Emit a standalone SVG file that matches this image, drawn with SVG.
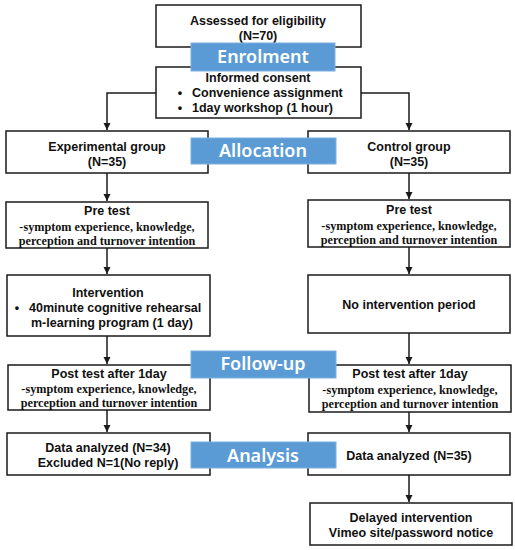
<svg xmlns="http://www.w3.org/2000/svg" width="515" height="550" viewBox="0 0 515 550">
<defs>
<marker id="ah" markerWidth="8" markerHeight="8" refX="7" refY="4" orient="auto" markerUnits="userSpaceOnUse">
<path d="M0,0.5 L7,4 L0,7.5 Z" fill="#1a1a1a"/>
</marker>
<style>
.box{fill:#fff;stroke:#1a1a1a;stroke-width:1.5}
.t{font-family:"Liberation Sans",Arial,sans-serif;font-weight:bold;font-size:12.5px;fill:#111;text-anchor:middle}
.s{font-family:"Liberation Serif","Times New Roman",serif;font-weight:bold;font-size:12.2px;fill:#111;text-anchor:middle}
.lbl{fill:#5b9bd5;stroke:#7aaee0;stroke-width:1}
.lt{font-family:"Noto Sans","Open Sans",sans-serif;font-weight:600;font-size:18px;fill:#fff;text-anchor:middle}
.c{fill:none;stroke:#1a1a1a;stroke-width:1.5}
</style>
</defs>
<rect width="515" height="550" fill="#fff"/>

<g id="connectors">
<path class="c" d="M156,93 H107 V130" marker-end="url(#ah)"/>
<path class="c" d="M361,93 H409 V130" marker-end="url(#ah)"/>
<path class="c" d="M107,173 V201" marker-end="url(#ah)"/>
<path class="c" d="M107,248 V274" marker-end="url(#ah)"/>
<path class="c" d="M107,336 V364" marker-end="url(#ah)"/>
<path class="c" d="M107,410 V432" marker-end="url(#ah)"/>
<path class="c" d="M409,173 V199" marker-end="url(#ah)"/>
<path class="c" d="M409,247 V274" marker-end="url(#ah)"/>
<path class="c" d="M409,333 V364" marker-end="url(#ah)"/>
<path class="c" d="M409,412 V432" marker-end="url(#ah)"/>
<path class="c" d="M409,475 V502" marker-end="url(#ah)"/>
</g>

<g id="n-eligibility">
<rect class="box" x="156" y="5" width="205" height="42"/>
<text class="t" x="258" y="25">Assessed for eligibility</text>
<text class="t" x="258" y="40">(N=70)</text>
</g>

<g id="n-consent">
<rect class="box" x="156" y="67" width="205" height="51"/>
<text class="t" x="258" y="82">Informed consent</text>
<text class="t" x="180" y="97">•</text>
<text class="t" x="192" y="97" style="text-anchor:start">Convenience assignment</text>
<text class="t" x="180" y="112">•</text>
<text class="t" x="192" y="112" style="text-anchor:start">1day workshop (1 hour)</text>
</g>

<g id="n-experimental">
<rect class="box" x="6" y="131" width="202" height="42"/>
<text class="t" x="107" y="151">Experimental group</text>
<text class="t" x="107" y="166">(N=35)</text>
</g>

<g id="n-control">
<rect class="box" x="308" y="131" width="202" height="42"/>
<text class="t" x="409" y="151">Control group</text>
<text class="t" x="409" y="166">(N=35)</text>
</g>

<g id="n-pretest-left">
<rect class="box" x="6" y="202" width="202" height="46"/>
<text class="t" x="107" y="215">Pre test</text>
<text class="s" x="107" y="231">-symptom experience, knowledge,</text>
<text class="s" x="107" y="245">perception and turnover intention</text>
</g>

<g id="n-pretest-right">
<rect class="box" x="308" y="200" width="202" height="47"/>
<text class="t" x="409" y="214">Pre test</text>
<text class="s" x="409" y="230">-symptom experience, knowledge,</text>
<text class="s" x="409" y="244">perception and turnover intention</text>
</g>

<g id="n-intervention">
<rect class="box" x="7" y="275" width="203" height="61"/>
<text class="t" x="108" y="297">Intervention</text>
<text class="t" x="17" y="312">•</text>
<text class="t" x="29" y="312" style="text-anchor:start">40minute cognitive rehearsal</text>
<text class="t" x="31" y="327" style="text-anchor:start">m-learning program (1 day)</text>
</g>

<g id="n-nointervention">
<rect class="box" x="308" y="275" width="202" height="58"/>
<text class="t" x="409" y="309">No intervention period</text>
</g>

<g id="n-posttest-left">
<rect class="box" x="8" y="365" width="202" height="45"/>
<text class="t" x="109" y="378">Post test after 1day</text>
<text class="s" x="109" y="393">-symptom experience, knowledge,</text>
<text class="s" x="109" y="407">perception and turnover intention</text>
</g>

<g id="n-posttest-right">
<rect class="box" x="309" y="365" width="202" height="47"/>
<text class="t" x="410" y="378">Post test after 1day</text>
<text class="s" x="410" y="394">-symptom experience, knowledge,</text>
<text class="s" x="410" y="408">perception and turnover intention</text>
</g>

<g id="n-analyzed-left">
<rect class="box" x="7" y="433" width="203" height="42"/>
<text class="t" x="108" y="452">Data analyzed (N=34)</text>
<text class="t" x="108" y="467">Excluded N=1(No reply)</text>
</g>

<g id="n-analyzed-right">
<rect class="box" x="308" y="433" width="202" height="42"/>
<text class="t" x="409" y="460">Data analyzed (N=35)</text>
</g>

<g id="n-delayed">
<rect class="box" x="310" y="503" width="202" height="42"/>
<text class="t" x="411" y="522">Delayed intervention</text>
<text class="t" x="411" y="537">Vimeo site/password notice</text>
</g>

<g id="l-enrolment">
<rect class="lbl" x="191" y="43" width="144" height="28"/>
<text class="lt" x="263" y="63">Enrolment</text>
</g>
<g id="l-allocation">
<rect class="lbl" x="191" y="138" width="145" height="26"/>
<text class="lt" x="263" y="157">Allocation</text>
</g>
<g id="l-followup">
<rect class="lbl" x="191" y="351" width="145" height="27"/>
<text class="lt" x="263" y="370">Follow-up</text>
</g>
<g id="l-analysis">
<rect class="lbl" x="191" y="442" width="145" height="26"/>
<text class="lt" x="263" y="462">Analysis</text>
</g>
</svg>
